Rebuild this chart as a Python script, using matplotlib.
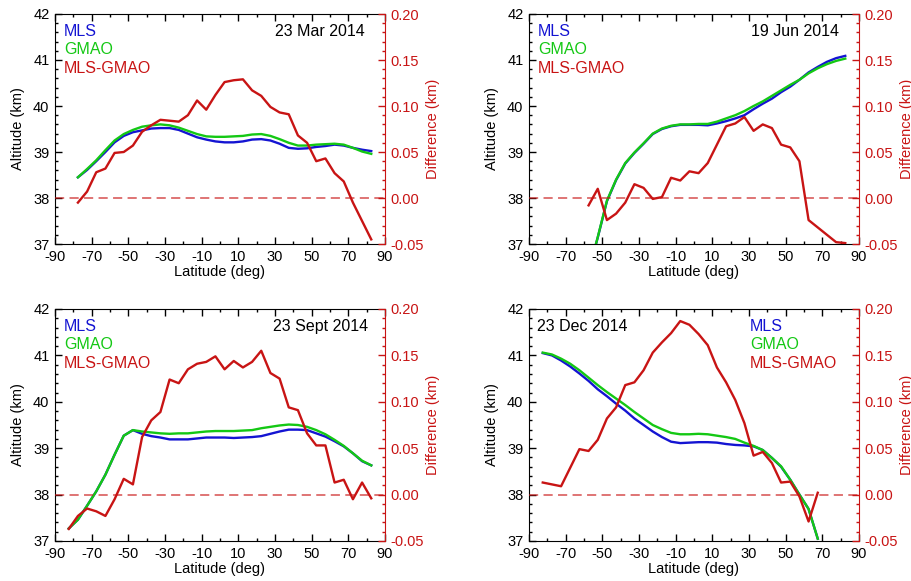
import numpy as np
import matplotlib
matplotlib.use('Agg')
import matplotlib.pyplot as plt
from matplotlib.ticker import MultipleLocator, FormatStrFormatter

plt.rcParams['font.family'] = ['Liberation Sans', 'DejaVu Sans']
plt.rcParams['axes.unicode_minus'] = False

blue = '#1414d2'
green = '#14c814'
red = '#c81414'

# latitude grids (deg), 5 deg spacing
lat_mar = np.arange(-77.5, 82.6, 5.0)
lat_jun = np.arange(-57.5, 82.6, 5.0)
lat_sep = np.arange(-82.5, 82.6, 5.0)
lat_dec = np.arange(-82.5, 67.6, 5.0)

# 23 Mar 2014
mar_mls = [38.45, 38.61, 38.80, 39.00, 39.21, 39.35, 39.43, 39.47, 39.51, 39.52,
           39.52, 39.48, 39.40, 39.32, 39.27, 39.23, 39.21, 39.21, 39.23, 39.27,
           39.28, 39.25, 39.18, 39.09, 39.07, 39.08, 39.11, 39.13, 39.16, 39.14,
           39.09, 39.05, 39.02]
mar_gmao = [38.45, 38.63, 38.82, 39.04, 39.25, 39.39, 39.48, 39.55, 39.58, 39.60,
            39.58, 39.53, 39.46, 39.39, 39.34, 39.33, 39.33, 39.34, 39.35, 39.38,
            39.39, 39.35, 39.28, 39.20, 39.14, 39.14, 39.16, 39.17, 39.18, 39.16,
            39.09, 39.01, 38.96]
mar_diff = [-0.005, 0.007, 0.028, 0.032, 0.049, 0.050, 0.057, 0.072, 0.079, 0.085,
            0.084, 0.083, 0.090, 0.106, 0.096, 0.112, 0.126, 0.128, 0.129, 0.117,
            0.111, 0.099, 0.093, 0.091, 0.068, 0.060, 0.040, 0.043, 0.027, 0.018,
            -0.005, -0.025, -0.045]

# 19 Jun 2014
jun_mls = [36.40, 37.14, 37.93, 38.39, 38.75, 38.98, 39.18, 39.39, 39.50, 39.56,
           39.59, 39.59, 39.59, 39.58, 39.62, 39.67, 39.73, 39.80, 39.93, 40.05,
           40.16, 40.30, 40.42, 40.57, 40.73, 40.85, 40.96, 41.04, 41.09]
jun_gmao = [36.40, 37.15, 37.94, 38.40, 38.76, 38.99, 39.19, 39.40, 39.51, 39.57,
            39.60, 39.60, 39.61, 39.61, 39.66, 39.73, 39.80, 39.89, 40.00, 40.10,
            40.22, 40.34, 40.46, 40.57, 40.71, 40.82, 40.91, 40.98, 41.03]
jun_diff = [-0.008, 0.010, -0.024, -0.017, -0.005, 0.015, 0.011, -0.001, 0.001, 0.022,
            0.019, 0.029, 0.027, 0.038, 0.058, 0.078, 0.081, 0.088, 0.073, 0.080,
            0.076, 0.058, 0.055, 0.040, -0.024, -0.032, -0.040, -0.048, -0.049]

# 23 Sept 2014
sep_mls = [37.27, 37.46, 37.76, 38.07, 38.43, 38.86, 39.27, 39.39, 39.31, 39.26,
           39.23, 39.19, 39.19, 39.19, 39.21, 39.23, 39.23, 39.23, 39.22, 39.23,
           39.24, 39.26, 39.31, 39.36, 39.40, 39.40, 39.39, 39.32, 39.25, 39.15,
           39.04, 38.89, 38.72, 38.63]
sep_gmao = [37.27, 37.46, 37.76, 38.07, 38.43, 38.86, 39.27, 39.39, 39.36, 39.34,
            39.32, 39.31, 39.32, 39.32, 39.34, 39.36, 39.37, 39.37, 39.37, 39.38,
            39.39, 39.43, 39.46, 39.49, 39.51, 39.50, 39.46, 39.39, 39.30, 39.18,
            39.05, 38.89, 38.73, 38.63]
sep_diff = [-0.037, -0.023, -0.015, -0.018, -0.023, -0.005, 0.017, 0.011, 0.062, 0.080,
            0.089, 0.124, 0.120, 0.135, 0.141, 0.143, 0.149, 0.135, 0.144, 0.137,
            0.143, 0.155, 0.131, 0.125, 0.094, 0.091, 0.066, 0.053, 0.053, 0.013,
            0.016, -0.005, 0.013, -0.004]

# 23 Dec 2014
dec_mls = [41.05, 41.00, 40.89, 40.76, 40.61, 40.45, 40.27, 40.12, 39.96, 39.81,
           39.64, 39.50, 39.36, 39.24, 39.14, 39.11, 39.12, 39.13, 39.13, 39.12,
           39.09, 39.07, 39.06, 39.04, 38.96, 38.79, 38.60, 38.32, 38.00, 37.69,
           37.05]
dec_gmao = [41.06, 41.02, 40.93, 40.82, 40.68, 40.52, 40.36, 40.21, 40.07, 39.93,
            39.78, 39.64, 39.50, 39.41, 39.33, 39.30, 39.30, 39.31, 39.30, 39.27,
            39.24, 39.20, 39.12, 39.05, 38.96, 38.79, 38.61, 38.32, 38.00, 37.69,
            37.05]
dec_diff = [0.013, 0.011, 0.009, 0.029, 0.049, 0.047, 0.059, 0.082, 0.094, 0.118,
            0.121, 0.134, 0.153, 0.164, 0.174, 0.187, 0.183, 0.173, 0.161, 0.137,
            0.121, 0.102, 0.077, 0.042, 0.046, 0.034, 0.013, 0.014, -0.002, -0.029,
            0.002]

panels = [
    (lat_mar, mar_mls, mar_gmao, mar_diff, '23 Mar 2014'),
    (lat_jun, jun_mls, jun_gmao, jun_diff, '19 Jun 2014'),
    (lat_sep, sep_mls, sep_gmao, sep_diff, '23 Sept 2014'),
    (lat_dec, dec_mls, dec_gmao, dec_diff, '23 Dec 2014'),
]

W, H = 912, 581
fig = plt.figure(figsize=(W / 100, H / 100), dpi=100)

# axes boxes in pixels: (left, top, right, bottom)
boxes = [(55, 14, 385, 244), (529, 14, 859, 244),
         (55, 309, 385, 541), (529, 309, 859, 541)]

fs_tick = 10.5
fs_text = 11.5

for i, (lat, mls, gmao, diff, date) in enumerate(panels):
    l, t, r, b = boxes[i]
    ax = fig.add_axes([l / W, 1 - b / H, (r - l) / W, (b - t) / H])
    ax.plot(lat, mls, color=blue, lw=1.7)
    ax.plot(lat, gmao, color=green, lw=1.7)
    ax.set_xlim(-90, 90)
    ax.set_ylim(37, 42)
    ax.xaxis.set_minor_locator(MultipleLocator(10))
    ax.set_xticks(np.arange(-90, 91, 20))
    ax.yaxis.set_major_locator(MultipleLocator(1))
    ax.yaxis.set_minor_locator(MultipleLocator(0.2))
    ax.tick_params(which='both', direction='in', top=True, right=False,
                   labelsize=fs_tick, width=1)
    ax.tick_params(which='major', length=5, pad=4)
    ax.tick_params(which='minor', length=2.5)
    ax.spines['right'].set_visible(False)
    ax.set_xlabel('Latitude (deg)', fontsize=fs_tick)
    ax.xaxis.set_label_coords(0.5, -0.12)
    ax.xaxis.label.set_va('center')
    ax.set_ylabel('Altitude (km)', fontsize=fs_tick)
    ax.yaxis.set_label_coords(-0.112, 0.5)
    ax.yaxis.label.set_va('center')

    ax2 = ax.twinx()
    ax2.plot(lat, diff, color=red, lw=1.7)
    ax2.axhline(0, color=red, lw=1.1, alpha=0.75, linestyle=(0, (6, 3.5)))
    ax2.set_ylim(-0.05, 0.20)
    ax2.yaxis.set_major_locator(MultipleLocator(0.05))
    ax2.yaxis.set_minor_locator(MultipleLocator(0.01))
    ax2.yaxis.set_major_formatter(FormatStrFormatter('%.2f'))
    ax2.tick_params(which='both', direction='in', colors=red, labelsize=fs_tick, width=1)
    ax2.tick_params(which='major', length=5, pad=4)
    ax2.tick_params(which='minor', length=2.5)
    for s in ['top', 'left', 'bottom']:
        ax2.spines[s].set_visible(False)
    ax2.spines['right'].set_color(red)
    ax2.set_ylabel('Difference (km)', fontsize=fs_tick, color=red)
    ax2.yaxis.set_label_coords(1.145, 0.5)
    ax2.yaxis.label.set_va('center')

    if i < 3:
        lx = 0.027
        ax2.text(0.94 if i != 2 else 0.95, 0.925, date, transform=ax.transAxes,
                 ha='right', va='center', fontsize=fs_text, color='black')
    else:
        lx = 0.67
        ax2.text(0.024, 0.925, date, transform=ax.transAxes,
                 ha='left', va='center', fontsize=fs_text, color='black')
    ax2.text(lx, 0.925, 'MLS', transform=ax.transAxes, ha='left', va='center',
             fontsize=fs_text, color=blue)
    ax2.text(lx, 0.845, 'GMAO', transform=ax.transAxes, ha='left', va='center',
             fontsize=fs_text, color=green)
    ax2.text(lx, 0.765, 'MLS-GMAO', transform=ax.transAxes, ha='left', va='center',
             fontsize=fs_text, color=red)

fig.savefig('out.png', dpi=100)
